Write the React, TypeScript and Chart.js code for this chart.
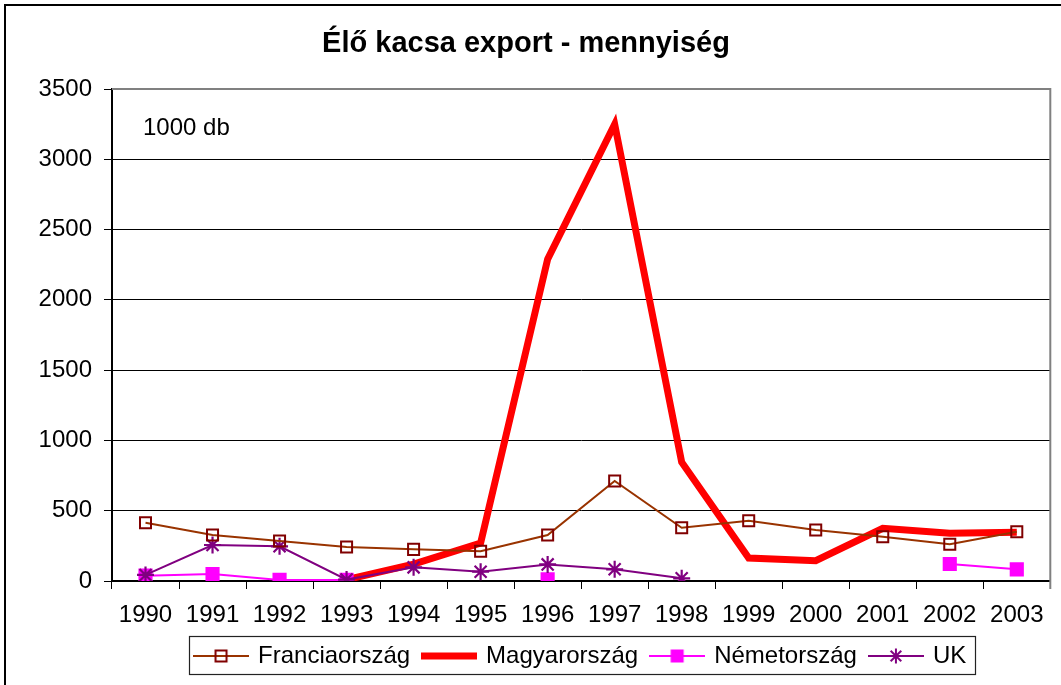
import React, { useEffect, useRef } from 'react';
import { Chart, registerables } from 'chart.js';

Chart.register(...registerables);

const TITLE = 'Élő kacsa export - mennyiség';
const UNIT_LABEL = '1000 db';

const years = ['1990', '1991', '1992', '1993', '1994', '1995', '1996', '1997', '1998', '1999', '2000', '2001', '2002', '2003'];
const seriesNames = ['Franciaország', 'Magyarország', 'Németország', 'UK'];

const francia = [415, 327, 284, 242, 225, 211, 327, 711, 379, 429, 363, 315, 261, 351];
const magyar = [null, null, null, 10, 120, 270, 2290, 3250, 845, 163, 144, 375, 339, 346];
const nemet = [38, 50, 8, 8, null, null, 12, null, null, null, null, null, 121, 83];
const uk = [43, 256, 247, 10, 97, 66, 118, 83, 19, null, null, null, null, null];

const yMin = 0;
const yMax = 3500;
const yStep = 500;

const FONT = "'Liberation Sans', Arial, Helvetica, sans-serif";

function makeMarker(kind: string): HTMLCanvasElement {
  const c = document.createElement('canvas');
  c.width = 56;
  c.height = 24;
  const g = c.getContext('2d') as CanvasRenderingContext2D;
  const cy = 12;
  g.lineCap = 'butt';
  if (kind === 'fr') {
    g.strokeStyle = '#993300';
    g.lineWidth = 2;
    g.beginPath(); g.moveTo(0, cy); g.lineTo(56, cy); g.stroke();
    g.strokeStyle = '#800000';
    g.lineWidth = 2;
    g.strokeRect(28 - 5.5, cy - 5.5, 11, 11);
  } else if (kind === 'hu') {
    g.strokeStyle = '#FF0000';
    g.lineWidth = 7;
    g.beginPath(); g.moveTo(0, cy); g.lineTo(56, cy); g.stroke();
  } else if (kind === 'de') {
    g.strokeStyle = '#FF00FF';
    g.lineWidth = 2;
    g.beginPath(); g.moveTo(0, cy); g.lineTo(56, cy); g.stroke();
    g.fillStyle = '#FF00FF';
    g.fillRect(28 - 6.5, cy - 6.5, 13, 13);
  } else {
    g.strokeStyle = '#800080';
    g.lineWidth = 2;
    g.beginPath(); g.moveTo(0, cy); g.lineTo(56, cy); g.stroke();
    const r = 7.5;
    const d = r * Math.SQRT1_2;
    g.beginPath();
    g.moveTo(28, cy - r); g.lineTo(28, cy + r);
    g.moveTo(28 - d, cy - d); g.lineTo(28 + d, cy + d);
    g.moveTo(28 - d, cy + d); g.lineTo(28 + d, cy - d);
    g.stroke();
  }
  return c;
}

const decorPlugin = {
  id: 'decor',
  beforeDatasetsDraw(chart: any) {
    const ctx = chart.ctx;
    const a = chart.chartArea;
    ctx.save();
    ctx.strokeStyle = '#808080';
    ctx.lineWidth = 2;
    ctx.beginPath();
    ctx.moveTo(a.left, a.top);
    ctx.lineTo(a.right, a.top);
    ctx.lineTo(a.right, a.bottom + 8);
    ctx.stroke();
    ctx.restore();
  },
  afterDraw(chart: any) {
    const ctx = chart.ctx;
    const a = chart.chartArea;
    ctx.save();
    // outer chart border (top & left visible)
    ctx.strokeStyle = '#000';
    ctx.lineWidth = 2;
    ctx.beginPath();
    ctx.moveTo(5, chart.height + 5);
    ctx.lineTo(5, 5);
    ctx.lineTo(chart.width + 5, 5);
    ctx.stroke();
    // unit label
    ctx.fillStyle = '#000';
    ctx.font = `24px ${FONT}`;
    ctx.textBaseline = 'middle';
    ctx.textAlign = 'left';
    ctx.fillText(UNIT_LABEL, a.left + 31, a.top + 39);
    // legend frame
    const lg = chart.legend;
    if (lg && lg.legendHitBoxes && lg.legendHitBoxes.length) {
      const hb = lg.legendHitBoxes;
      const first = hb[0];
      const last = hb[hb.length - 1];
      const left = Math.round(first.left - 7) + 0.5;
      const right = Math.round(last.left + last.width + 9) + 0.5;
      const top = Math.round(lg.top + 6) + 0.5;
      const bottom = Math.round(lg.bottom - 4) + 0.5;
      ctx.strokeStyle = '#222';
      ctx.lineWidth = 1.2;
      ctx.strokeRect(left, top, right - left, bottom - top);
    }
    ctx.restore();
  },
};

export default function App() {
  const ref = useRef<HTMLCanvasElement | null>(null);

  useEffect(() => {
    if (!ref.current) return;
    Chart.defaults.font.family = FONT;
    Chart.defaults.color = '#000';
    const markers = [makeMarker('fr'), makeMarker('hu'), makeMarker('de'), makeMarker('uk')];

    const chart = new Chart(ref.current, {
      type: 'line',
      data: {
        labels: years,
        datasets: [
          {
            label: seriesNames[0],
            data: francia,
            borderColor: '#993300',
            borderWidth: 2,
            pointStyle: 'rect',
            pointRadius: 7.8,
            pointBorderColor: '#800000',
            pointBackgroundColor: 'rgba(0,0,0,0)',
            pointBorderWidth: 2,
            order: 1,
          },
          {
            label: seriesNames[1],
            data: magyar,
            borderColor: '#FF0000',
            borderWidth: 7,
            pointRadius: 0,
            borderJoinStyle: 'miter',
            order: 4,
          },
          {
            label: seriesNames[2],
            data: nemet,
            borderColor: '#FF00FF',
            borderWidth: 2,
            pointStyle: 'rect',
            pointRadius: 10,
            pointBorderColor: '#FF00FF',
            pointBackgroundColor: '#FF00FF',
            pointBorderWidth: 0,
            order: 3,
          },
          {
            label: seriesNames[3],
            data: uk,
            borderColor: '#800080',
            borderWidth: 2,
            pointStyle: 'star',
            pointRadius: 8.5,
            pointBorderColor: '#800080',
            pointBackgroundColor: '#800080',
            pointBorderWidth: 2.2,
            order: 2,
          },
        ] as any,
      },
      options: {
        responsive: false,
        animation: false,
        events: [],
        elements: { line: { tension: 0 } },
        spanGaps: false,
        layout: { padding: { left: 0, right: 9, top: 0, bottom: 7 } },
        plugins: {
          title: {
            display: true,
            text: TITLE,
            color: '#000',
            font: { size: 29, weight: 'bold', family: FONT, lineHeight: 1.2 },
            padding: { top: 27, bottom: 27.2 },
          },
          legend: {
            display: true,
            position: 'bottom',
            fullSize: false,
            labels: {
              color: '#000',
              font: { size: 24, family: FONT },
              padding: 14,
              usePointStyle: true,
              pointStyleWidth: 50,
              generateLabels: () =>
                seriesNames.map((name, i) => ({
                  text: name,
                  pointStyle: markers[i] as any,
                  fillStyle: 'rgba(0,0,0,0)',
                  strokeStyle: 'rgba(0,0,0,0)',
                  lineWidth: 0,
                  hidden: false,
                  datasetIndex: i,
                  fontColor: '#000',
                })),
            },
          },
          tooltip: { enabled: false },
        },
        scales: {
          x: {
            offset: true,
            afterFit: (s: any) => { s.height = 49; },
            grid: {
              display: true,
              offset: true,
              drawOnChartArea: false,
              drawTicks: true,
              tickLength: 8,
              tickColor: '#000',
              tickWidth: 1,
            },
            border: { display: true, color: '#000', width: 2 },
            ticks: {
              color: '#000',
              font: { size: 24, family: FONT },
              padding: 12,
              maxRotation: 0,
              autoSkip: false,
            },
          },
          y: {
            min: yMin,
            max: yMax,
            afterFit: (s: any) => { s.width = 112; },
            grid: {
              color: '#000',
              lineWidth: 1,
              drawTicks: true,
              tickLength: 8,
              tickColor: '#000',
              tickWidth: 1,
            },
            border: { display: true, color: '#000', width: 2 },
            ticks: {
              stepSize: yStep,
              color: '#000',
              font: { size: 24, family: FONT },
              padding: 12,
              callback: (v: any) => String(v),
            },
          },
        },
      },
      plugins: [decorPlugin],
    });
    return () => chart.destroy();
  }, []);

  return (
    <div style={{ position: 'fixed', left: 0, top: 0, width: 1061, height: 685, background: '#fff' }}>
      <canvas ref={ref} width={1061} height={685} style={{ display: 'block', width: 1061, height: 685 }} />
    </div>
  );
}
